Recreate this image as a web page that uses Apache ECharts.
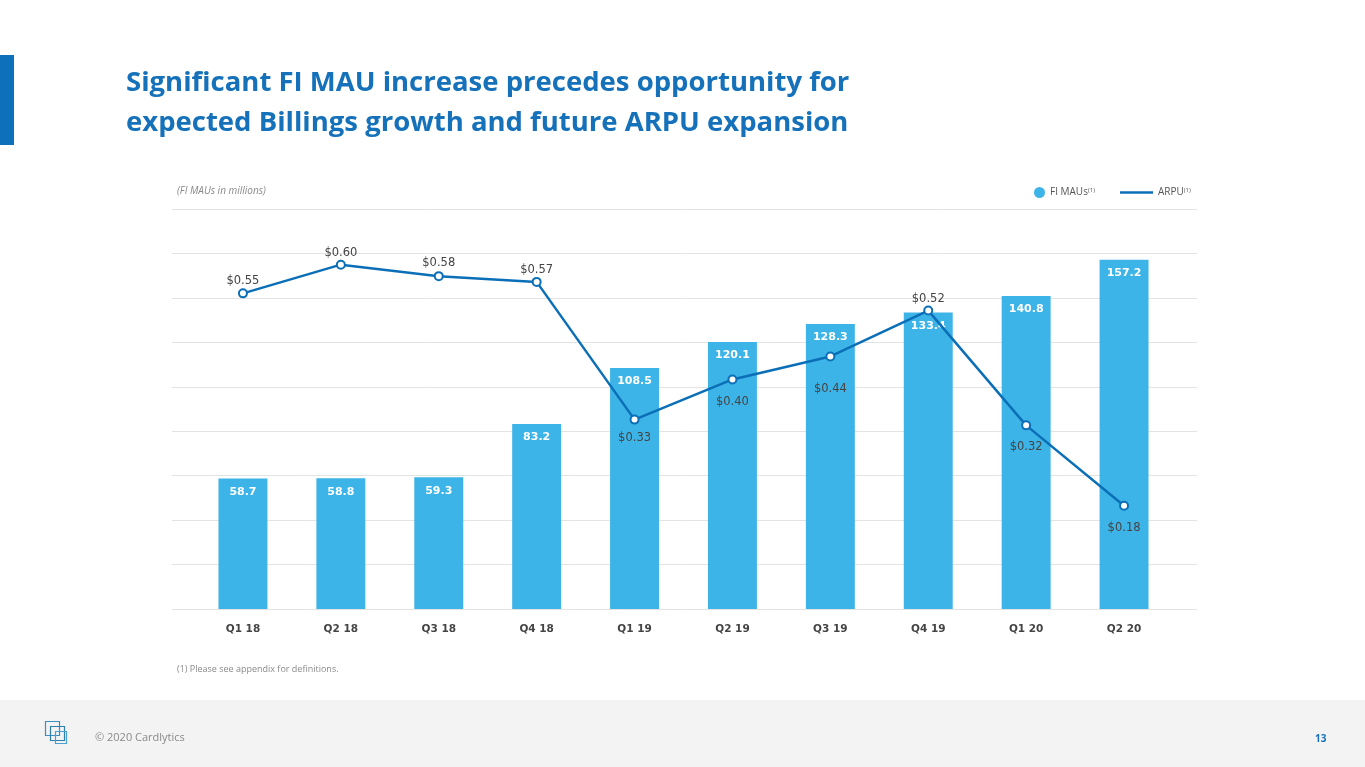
<!DOCTYPE html>
<html>
<head>
<meta charset="utf-8">
<title>FI MAUs and ARPU</title>
<script src="https://cdn.jsdelivr.net/npm/echarts@6/dist/echarts.min.js"></script>
<style>
	html, body { margin: 0; padding: 0; background: #fff; }
	#chart { width: 1365px; height: 767px; }
</style>
</head>
<body>
<div id="chart"></div>
<script>
	// 数据
	var quarters = ['Q1 18', 'Q2 18', 'Q3 18', 'Q4 18', 'Q1 19', 'Q2 19', 'Q3 19', 'Q4 19', 'Q1 20', 'Q2 20'];
	var fiMaus = [58.7, 58.8, 59.3, 83.2, 108.5, 120.1, 128.3, 133.4, 140.8, 157.2];
	var arpu = [0.55, 0.60, 0.58, 0.57, 0.33, 0.40, 0.44, 0.52, 0.32, 0.18];
	// 标签在点上方(负)或下方(正)的偏移
	var arpuLabelOffset = [-15, -15, -16, -15, 14, 19, 29, -15, 18, 18];

	var BAR = '#3db4e7';
	var LINE = '#0b6fb8';
	var FONT = '"Open Sans", Lato, sans-serif';
	var LABEL_FONT = '"DejaVu Sans", sans-serif';

	var chart = echarts.init(document.getElementById('chart'));

	var lineData = [];
	for (var i = 0; i < arpu.length; i++) {
		var off = arpuLabelOffset[i];
		lineData.push({
			value: arpu[i],
			label: {
				position: off < 0 ? 'top' : 'bottom',
				distance: off < 0 ? Math.max(-off - 14, 0) : off - 7
			}
		});
	}

	var legendRich = {
		a: { fontSize: 10, color: '#555', fontFamily: FONT },
		s: { fontSize: 6, color: '#555', fontFamily: FONT, verticalAlign: 'top', padding: [0, 0, 5, 0] }
	};

	chart.setOption({
		animation: false,
		textStyle: { fontFamily: FONT },
		title: [{
			text: 'Significant FI MAU increase precedes opportunity for\nexpected Billings growth and future ARPU expansion',
			left: 121,
			top: 58,
			textStyle: {
				color: '#1571b9',
				fontSize: 27.5,
				fontWeight: 'bold',
				lineHeight: 40,
				fontFamily: FONT
			}
		}, {
			text: '(FI MAUs in millions)',
			left: 172,
			top: 181,
			textStyle: { color: '#8a8a8a', fontSize: 10, fontStyle: 'italic', fontWeight: 'normal' }
		}, {
			text: '(1) Please see appendix for definitions.',
			left: 172,
			top: 660,
			textStyle: { color: '#8a8a8a', fontSize: 9, fontWeight: 'normal' }
		}, {
			text: '© 2020 Cardlytics',
			left: 90,
			top: 727,
			textStyle: { color: '#8a8a8a', fontSize: 11, fontWeight: 'normal' }
		}, {
			text: '13',
			left: 1310,
			top: 729,
			textStyle: { color: '#1571b9', fontSize: 10, fontWeight: 'bold' }
		}],
		legend: [{
			data: [{ name: 'FI MAUs', icon: 'circle' }],
			left: 1029,
			top: 182,
			itemWidth: 11,
			itemHeight: 11,
			itemGap: 6,
			formatter: '{a|{name}}{s|(1)}',
			textStyle: { color: '#555', rich: legendRich }
		}, {
			data: [{ name: 'ARPU', icon: 'rect', itemStyle: { color: LINE, borderWidth: 0 } }],
			left: 1115,
			top: 182,
			itemWidth: 33,
			itemHeight: 2.5,
			itemGap: 12,
			formatter: '{a|{name}}{s|(1)}',
			textStyle: { color: '#555', rich: legendRich }
		}],
		graphic: [
			{ type: 'rect', shape: { x: 0, y: 55, width: 14, height: 90 }, style: { fill: '#0e6fbb' } },
			{ type: 'rect', shape: { x: 0, y: 700, width: 1365, height: 67 }, style: { fill: '#f3f3f3' }, z: -10 },
			{ type: 'rect', shape: { x: 45.5, y: 721.5, width: 14, height: 14 }, style: { fill: 'none', stroke: '#3d8fc0', lineWidth: 1.2 } },
			{ type: 'rect', shape: { x: 50.5, y: 726.5, width: 14, height: 14 }, style: { fill: 'none', stroke: '#2d7fae', lineWidth: 1.2 } },
			{ type: 'rect', shape: { x: 55.5, y: 731.5, width: 11, height: 12 }, style: { fill: 'none', stroke: '#4aa0cf', lineWidth: 1.2 } }
		],
		grid: [
			{ left: 172, width: 1025, top: 209, height: 400 },
			{ left: 194, width: 979, top: 209, height: 400 }
		],
		xAxis: [{
			gridIndex: 0,
			type: 'value',
			show: false
		}, {
			gridIndex: 1,
			type: 'category',
			data: quarters,
			axisLine: { show: false },
			axisTick: { show: false },
			axisLabel: { color: '#444', fontSize: 10.5, fontWeight: 'bold', margin: 15, fontFamily: LABEL_FONT }
		}],
		yAxis: [{
			gridIndex: 0,
			type: 'value',
			min: 0,
			max: 180,
			interval: 20,
			axisLabel: { show: false },
			axisLine: { show: false },
			axisTick: { show: false },
			splitLine: { lineStyle: { color: '#e3e3e3', width: 1 } }
		}, {
			gridIndex: 1,
			type: 'value',
			min: 0,
			max: 180,
			interval: 20,
			show: false,
			splitLine: { show: false }
		}, {
			gridIndex: 1,
			type: 'value',
			min: 0,
			max: 0.697,
			show: false,
			splitLine: { show: false }
		}],
		series: [{
			name: 'FI MAUs',
			type: 'bar',
			xAxisIndex: 1,
			yAxisIndex: 1,
			data: fiMaus,
			barWidth: '50%',
			itemStyle: { color: BAR },
			label: {
				show: true,
				position: 'insideTop',
				distance: 8,
				color: '#fff',
				fontSize: 11,
				fontWeight: 'bold',
				fontFamily: LABEL_FONT,
				formatter: function(p) { return p.value.toFixed(1); }
			},
			z: 2
		}, {
			name: 'ARPU',
			type: 'line',
			xAxisIndex: 1,
			yAxisIndex: 2,
			data: lineData,
			symbol: 'circle',
			symbolSize: 8,
			itemStyle: { color: '#fff', borderColor: LINE, borderWidth: 2 },
			lineStyle: { color: LINE, width: 2.5 },
			label: {
				show: true,
				color: '#444',
				fontSize: 11.5,
				fontFamily: LABEL_FONT,
				formatter: function(p) { return '$' + p.value.toFixed(2); }
			},
			z: 3
		}]
	});
</script>
</body>
</html>
